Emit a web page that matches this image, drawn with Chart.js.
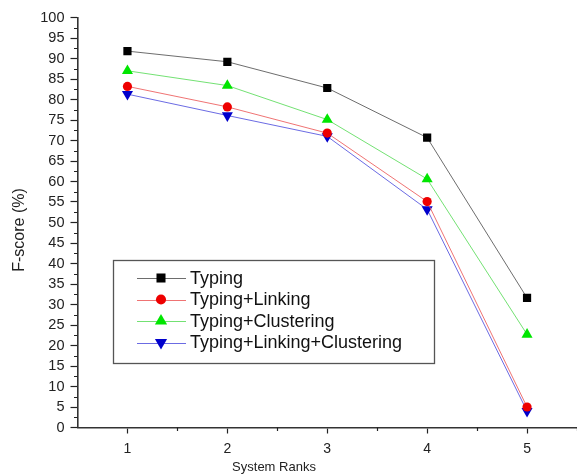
<!DOCTYPE html>
<html>
<head>
<meta charset="utf-8">
<script src="https://cdn.jsdelivr.net/npm/chart.js@4.4.1/dist/chart.umd.min.js"></script>
<style>
  html, body { margin: 0; padding: 0; background: #fff; }
  #wrap { width: 577px; height: 476px; }
</style>
</head>
<body>
<div id="wrap"><canvas id="fscoreChart" width="577" height="476"></canvas></div>
<script>
// F-score per system rank, one array per configuration
const ranks = [1, 2, 3, 4, 5];
const typing = [91.8, 89.2, 82.8, 70.7, 31.6];
const typingLinking = [83.2, 78.2, 71.8, 55.1, 5.0];
const typingClustering = [87.0, 83.4, 75.1, 60.6, 22.7];
const typingLinkingClustering = [81.3, 76.1, 71.0, 53.2, 4.0];
const seriesNames = ['Typing', 'Typing+Linking', 'Typing+Clustering', 'Typing+Linking+Clustering'];
const yTickValues = [0, 5, 10, 15, 20, 25, 30, 35, 40, 45, 50, 55, 60, 65, 70, 75, 80, 85, 90, 95, 100];

const FONT = "'Liberation Sans', Arial, Helvetica, sans-serif";

function toPoints(values) {
    return values.map((v, i) => ({ x: ranks[i], y: v }));
}

// marker + line styles for each series
const styles = [
    { line: 'rgba(60, 60, 60, 0.75)', fill: '#000000', shape: 'rect', radius: 5.8, rot: 0 },
    { line: 'rgba(235, 80, 80, 0.8)', fill: '#ee0000', shape: 'circle', radius: 4.6, rot: 0 },
    { line: 'rgba(90, 220, 90, 0.85)', fill: '#00e600', shape: 'triangle', radius: 6.4, rot: 0 },
    { line: 'rgba(70, 70, 220, 0.8)', fill: '#0000cc', shape: 'triangle', radius: 6.4, rot: 180 }
];

const seriesValues = [typing, typingLinking, typingClustering, typingLinkingClustering];

const datasets = seriesValues.map((vals, i) => ({
    label: seriesNames[i],
    data: toPoints(vals),
    borderColor: styles[i].line,
    backgroundColor: styles[i].fill,
    borderWidth: 1,
    pointStyle: styles[i].shape,
    pointRotation: styles[i].rot,
    pointRadius: styles[i].radius,
    pointBackgroundColor: styles[i].fill,
    pointBorderColor: styles[i].fill,
    pointBorderWidth: 0,
    tension: 0
}));

// Short minor ticks halfway between the major ones
const minorTicks = {
    id: 'minorTicks',
    afterDraw(chart) {
        const { ctx } = chart;
        const xs = chart.scales.x;
        const ys = chart.scales.y;
        ctx.save();
        ctx.strokeStyle = '#222';
        ctx.lineWidth = 1.2;
        ctx.beginPath();
        const xt = xs.ticks.map(t => t.value);
        for (let i = 0; i < xt.length; i++) {
            const mid = xt[i] + 0.5;
            if (mid > xs.max) continue;
            const px = Math.round(xs.getPixelForValue(mid)) + 0.5;
            ctx.moveTo(px, ys.bottom);
            ctx.lineTo(px, ys.bottom + 3.5);
        }
        const yt = ys.ticks.map(t => t.value);
        for (let i = 0; i < yt.length - 1; i++) {
            const mid = (yt[i] + yt[i + 1]) / 2;
            const py = Math.round(ys.getPixelForValue(mid)) + 0.5;
            ctx.moveTo(xs.left, py);
            ctx.lineTo(xs.left - 3.5, py);
        }
        ctx.stroke();
        ctx.restore();
    }
};

// Boxed legend sitting inside the plot, plus both axis captions
const boxLegend = {
    id: 'boxLegend',
    afterDraw(chart, args, opts) {
        const { ctx } = chart;
        const left = opts.left, top = opts.top, w = opts.width, h = opts.height;
        ctx.save();
        ctx.strokeStyle = '#555';
        ctx.lineWidth = 1.3;
        ctx.strokeRect(left + 0.5, top + 0.5, w, h);

        ctx.font = '18px ' + FONT;
        ctx.textBaseline = 'middle';
        ctx.textAlign = 'left';
        chart.data.datasets.forEach((ds, i) => {
            const y = top + 18 + i * 21.5;
            const lx0 = left + 24, lx1 = left + 73, mx = left + 48;
            ctx.strokeStyle = ds.borderColor;
            ctx.lineWidth = 1;
            ctx.beginPath();
            ctx.moveTo(lx0, Math.round(y) + 0.5);
            ctx.lineTo(lx1, Math.round(y) + 0.5);
            ctx.stroke();
            ctx.fillStyle = ds.pointBackgroundColor;
            ctx.strokeStyle = ds.pointBackgroundColor;
            Chart.helpers.drawPoint(ctx, {
                pointStyle: ds.pointStyle,
                rotation: ds.pointRotation,
                radius: ds.pointRadius * 1.1,
                borderWidth: 0
            }, mx, y);
            ctx.fillStyle = '#111';
            ctx.fillText(ds.label, left + 77, y + 1);
        });

        ctx.fillStyle = '#222';
        ctx.font = '13px ' + FONT;
        ctx.textAlign = 'center';
        ctx.fillText('System Ranks', opts.captionX, opts.captionY);

        ctx.translate(opts.yCaptionX, opts.yCaptionY);
        ctx.rotate(-Math.PI / 2);
        ctx.font = '16px ' + FONT;
        ctx.fillText('F-score (%)', 0, 0);
        ctx.restore();
    }
};

new Chart(document.getElementById('fscoreChart'), {
    type: 'line',
    data: { datasets },
    options: {
        responsive: false,
        animation: false,
        layout: {
            autoPadding: false,
            padding: { top: 17.5, right: 0, left: 0, bottom: 0 }
        },
        plugins: {
            legend: { display: false },
            tooltip: { enabled: false },
            boxLegend: {
                left: 113, top: 260, width: 321, height: 103,
                captionX: 274, captionY: 467,
                yCaptionX: 20, yCaptionY: 230
            }
        },
        scales: {
            x: {
                type: 'linear',
                min: 0.5,
                max: 5.5,
                afterBuildTicks: axis => { axis.ticks = ranks.map(v => ({ value: v })); },
                afterFit: axis => {
                    axis.height = 48.5;
                    axis.paddingLeft = 0;
                    axis.paddingRight = 0;
                },
                grid: {
                    drawOnChartArea: false,
                    drawTicks: true,
                    tickLength: 6,
                    tickColor: '#222',
                    tickWidth: 1.2
                },
                border: { display: true, color: '#333', width: 1.6 },
                ticks: {
                    color: '#222',
                    font: { family: FONT, size: 14 },
                    padding: 7,
                    maxRotation: 0
                }
            },
            y: {
                min: 0,
                max: 100,
                afterBuildTicks: axis => { axis.ticks = yTickValues.map(v => ({ value: v })); },
                afterFit: axis => { axis.width = 77.5; },
                grid: {
                    drawOnChartArea: false,
                    drawTicks: true,
                    tickLength: 7,
                    tickColor: '#222',
                    tickWidth: 1.2
                },
                border: { display: true, color: '#333', width: 1.6 },
                ticks: {
                    color: '#222',
                    font: { family: FONT, size: 14.5 },
                    padding: 6
                }
            }
        }
    },
    plugins: [minorTicks, boxLegend]
});
</script>
</body>
</html>
